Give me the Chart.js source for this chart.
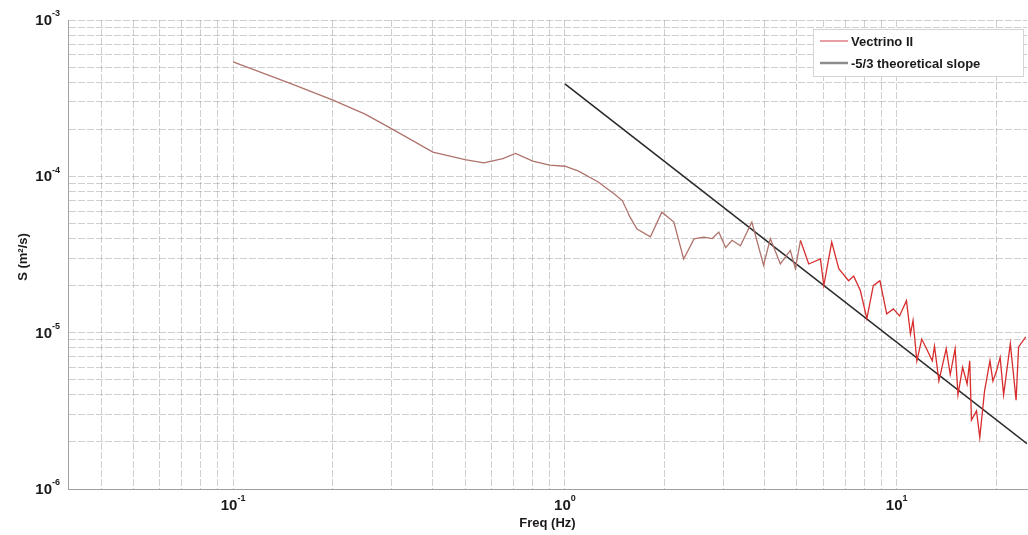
<!DOCTYPE html>
<html>
<head>
<meta charset="utf-8">
<script src="https://cdn.jsdelivr.net/npm/chart.js@4.4.1/dist/chart.umd.min.js"></script>
<style>
  html, body { margin: 0; padding: 0; background: #fff; }
  #wrap { width: 1028px; height: 535px; }
</style>
</head>
<body>
<div id="wrap"><canvas id="spectrumChart" width="1028" height="535"></canvas></div>
<script>
// Spectrum (frequency in Hz, S in m^2/s)
const freqHz = [
  0.1, 0.15, 0.2, 0.25, 0.3, 0.4, 0.5, 0.57, 0.65, 0.71, 0.8, 0.9, 1.0, 1.1,
  1.26, 1.4, 1.49, 1.57, 1.65, 1.81, 1.96, 2.13, 2.28, 2.45, 2.62, 2.78, 2.91,
  3.05, 3.19, 3.38, 3.66, 3.97, 4.16, 4.46, 4.78, 4.95, 5.13, 5.43, 5.89, 6.03,
  6.37, 6.69, 7.16, 7.42, 7.77, 8.13, 8.5, 8.9, 9.33, 9.77, 10.2, 10.7, 11.0,
  11.2, 11.5, 11.9, 12.3, 12.8, 13.0, 13.4, 14.1, 14.5, 15.0, 15.3, 15.8, 16.3,
  16.6, 16.8, 17.4, 17.8, 18.4, 19.1, 19.5, 20.0, 20.5, 21.0, 22.0, 22.9, 23.3,
  24.5
];
const spectrum = [
  5.4e-4, 3.9e-4, 3.07e-4, 2.5e-4, 2.02e-4, 1.43e-4, 1.28e-4, 1.22e-4, 1.3e-4,
  1.4e-4, 1.25e-4, 1.18e-4, 1.16e-4, 1.08e-4, 9.2e-5, 7.8e-5, 7.0e-5, 5.5e-5,
  4.6e-5, 4.1e-5, 5.9e-5, 5.1e-5, 2.96e-5, 3.98e-5, 4.08e-5, 4.0e-5, 4.4e-5,
  3.5e-5, 3.9e-5, 3.6e-5, 5.1e-5, 2.7e-5, 4.0e-5, 2.75e-5, 3.36e-5, 2.57e-5,
  3.89e-5, 2.75e-5, 2.96e-5, 2.0e-5, 3.8e-5, 2.57e-5, 2.15e-5, 2.3e-5, 1.86e-5,
  1.23e-5, 2.0e-5, 2.15e-5, 1.32e-5, 1.42e-5, 1.28e-5, 1.6e-5, 9.8e-6, 1.2e-5,
  6.6e-6, 9.1e-6, 7.9e-6, 6.6e-6, 8.2e-6, 4.9e-6, 7.9e-6, 5.4e-6, 7.9e-6,
  4.0e-6, 6.0e-6, 4.7e-6, 6.6e-6, 2.76e-6, 3.16e-6, 2.14e-6, 4.25e-6, 6.6e-6,
  4.9e-6, 5.7e-6, 6.95e-6, 4.0e-6, 8.5e-6, 3.7e-6, 8.1e-6, 9.4e-6
];
// -5/3 reference line, end points
const slopeFreq = [1, 24.7];
const slopeS = [3.9e-4, 1.95e-6];

const seriesNames = ["Vectrino II", "-5/3 theoretical slope"];
const xDecades = [-1, 0, 1];
const yDecades = [-3, -4, -5, -6];

const FONT = "'Liberation Sans', Arial, sans-serif";

// minor + major ticks: 1..9 x 10^n inside the range
function logTicks(scale) {
  const ticks = [];
  for (let e = -7; e <= 2; e++) {
    for (let m = 1; m <= 9; m++) {
      const v = m * Math.pow(10, e);
      if (v >= scale.min * 0.9999 && v <= scale.max * 1.0001) ticks.push({ value: v });
    }
  }
  scale.ticks = ticks;
}

// powers of ten drawn with a raised exponent
function drawPow(ctx, x, y, exp, align) {
  const base = "10";
  const sup = String(exp);
  ctx.font = "bold 15px " + FONT;
  const wb = ctx.measureText(base).width;
  ctx.font = "bold 9px " + FONT;
  const ws = ctx.measureText(sup).width;
  const total = wb + ws;
  let left = align === "right" ? x - total : x - total / 2;
  ctx.textAlign = "left";
  ctx.textBaseline = "middle";
  ctx.font = "bold 15px " + FONT;
  ctx.fillText(base, left, y);
  ctx.font = "bold 9px " + FONT;
  ctx.fillText(sup, left + wb, y - 7);
}

const axisText = {
  id: "axisText",
  afterDraw(chart) {
    const ctx = chart.ctx;
    const xs = chart.scales.x, ys = chart.scales.y;
    ctx.save();
    ctx.fillStyle = "#1a1a1a";
    xDecades.forEach(e => drawPow(ctx, xs.getPixelForValue(Math.pow(10, e)), 506, e, "center"));
    yDecades.forEach(e => drawPow(ctx, 60, ys.getPixelForValue(Math.pow(10, e)) + 1, e, "right"));

    ctx.font = "bold 13px " + FONT;
    ctx.textAlign = "center";
    ctx.textBaseline = "middle";
    ctx.fillText("Freq (Hz)", (chart.chartArea.left + chart.chartArea.right) / 2, 523);
    ctx.save();
    ctx.translate(23, 257);
    ctx.rotate(-Math.PI / 2);
    ctx.fillText("S (m\u00B2/s)", 0, 0);
    ctx.restore();

    // legend box inside the axes
    const bx = 813, by = 29, bw = 210, bh = 47;
    ctx.fillStyle = "#ffffff";
    ctx.fillRect(bx, by, bw, bh);
    ctx.strokeStyle = "#d5d5d5";
    ctx.lineWidth = 1;
    ctx.strokeRect(bx + 0.5, by + 0.5, bw, bh);
    const rows = [
      { y: 41, color: "rgb(215,95,105)", w: 1.2 },
      { y: 63, color: "rgb(140,140,140)", w: 2.5 }
    ];
    rows.forEach((r, i) => {
      ctx.strokeStyle = r.color;
      ctx.lineWidth = r.w;
      ctx.beginPath();
      ctx.moveTo(820, r.y);
      ctx.lineTo(848, r.y);
      ctx.stroke();
      ctx.fillStyle = "#1a1a1a";
      ctx.font = "bold 13px " + FONT;
      ctx.textAlign = "left";
      ctx.textBaseline = "middle";
      ctx.fillText(seriesNames[i], 851, r.y + 1);
    });
    ctx.restore();
  }
};

const gridOpts = { color: "rgba(140,140,140,0.42)", lineWidth: 1, drawTicks: false };
const borderOpts = { display: true, color: "#a0a0a0", width: 1, dash: [7, 2] };

new Chart(document.getElementById("spectrumChart").getContext("2d"), {
  type: "line",
  data: {
    datasets: [
      {
        label: seriesNames[0],
        data: freqHz.map((f, i) => ({ x: f, y: spectrum[i] })),
        borderWidth: 1.3,
        borderColor: "rgb(175,115,108)",
        segment: {
          borderColor: c => c.p0.parsed.x >= 5 ? "rgb(215,45,45)" : "rgb(175,115,108)"
        },
        pointRadius: 0,
        tension: 0
      },
      {
        label: seriesNames[1],
        data: slopeFreq.map((f, i) => ({ x: f, y: slopeS[i] })),
        borderWidth: 1.6,
        borderColor: "#2a2a2a",
        pointRadius: 0,
        tension: 0
      }
    ]
  },
  options: {
    responsive: false,
    animation: false,
    devicePixelRatio: 1,
    layout: { padding: { left: 68, right: 1, top: 20, bottom: 46 } },
    plugins: { legend: { display: false }, tooltip: { enabled: false } },
    scales: {
      x: {
        type: "logarithmic",
        min: 0.0318,
        max: 24.7,
        afterBuildTicks: logTicks,
        ticks: { display: false },
        grid: gridOpts,
        border: borderOpts
      },
      y: {
        type: "logarithmic",
        min: 1e-6,
        max: 1e-3,
        afterBuildTicks: logTicks,
        ticks: { display: false },
        grid: gridOpts,
        border: borderOpts
      }
    }
  },
  plugins: [axisText]
});
</script>
</body>
</html>
